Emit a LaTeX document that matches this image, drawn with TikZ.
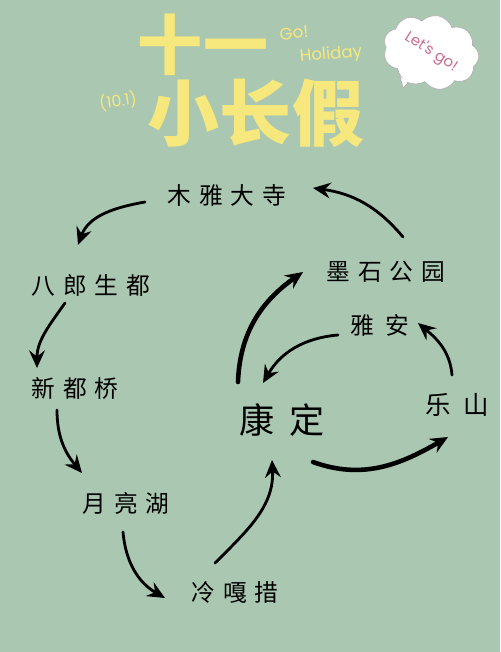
\documentclass[tikz,border=0pt]{standalone}
\usepackage{fontspec}
\usetikzlibrary{arrows.meta,shapes.symbols}
\newfontfamily\placefont[LetterSpace=33]{Noto Sans CJK SC}
\newfontfamily\titlefont{Noto Sans CJK SC}
\newfontfamily\handfont{Poppins}
\definecolor{bgsage}{RGB}{170,199,177}
\definecolor{titleyellow}{RGB}{246,232,125}
\definecolor{bubblepink}{RGB}{204,108,146}
\tikzset{
  place/.style={font=\placefont\fontsize{13.5}{15}\selectfont, inner sep=1pt},
  bigplace/.style={font=\placefont\addfontfeature{LetterSpace=40}\fontsize{20}{22}\selectfont, inner sep=1pt},
  route/.style={-{Stealth[length=10pt,width=9pt,inset=3.5pt]}, line width=1.6pt, line cap=round},
  mainroute/.style={route, line width=2.6pt}
}
\begin{document}
\begin{tikzpicture}[x=0.02cm,y=0.02cm]
  \fill[bgsage] (0,0) rectangle (500,-652);
  \useasboundingbox (0,0) rectangle (500,-652);
  % title
  \node[titleyellow, font=\titlefont\bfseries\fontsize{37}{37}\selectfont] (shiyi) at (203,-45) {十一};
  \node[titleyellow, font=\titlefont\bfseries\fontsize{41}{41}\selectfont] (xiaochangjia) at (256,-113) {小长假};
  \node[titleyellow, font=\handfont\fontsize{9}{10}\selectfont, rotate=8] (date) at (118,-101) {(10.1)};
  \node[titleyellow, font=\handfont\fontsize{9.5}{11}\selectfont, rotate=5] (go) at (294,-33) {Go!};
  \node[titleyellow, font=\handfont\fontsize{9.5}{11}\selectfont, rotate=5] (holiday) at (331,-55) {Holiday};
  % bubble
  \fill[white] (399,-72) -- (403,-88) -- (414,-76) -- cycle;
  \draw[gray!60] (399,-73) -- (403,-88) -- (413,-78);
  \node[cloud, cloud puffs=9, cloud puff arc=115, cloud ignores aspect, fill=white, draw=gray!60,
        minimum width=55pt, minimum height=42pt, inner sep=0pt, rotate=-12,
        text=bubblepink, font=\handfont\fontsize{8.5}{10}\selectfont] (bubble) at (431,-52) {\rotatebox{-21}{Let's go!}};
  \fill[white] (401,-72) -- (404,-85) -- (412,-76) -- cycle;
  % places
  \node[place] (muya) at (227,-195) {木雅大寺};
  \node[place] (balang) at (91,-285) {八郎生都};
  \node[place] (xinduqiao) at (75,-388) {新都桥};
  \node[place] (yueliang) at (126,-503) {月亮湖};
  \node[place] (lenggacuo) at (235,-592) {冷嘎措};
  \node[bigplace] (kangding) at (282,-420) {康定};
  \node[place, font=\placefont\addfontfeature{LetterSpace=50}\fontsize{14.5}{16}\selectfont] (leshan) at (457,-405) {乐山};
  \node[place, font=\placefont\addfontfeature{LetterSpace=45}\fontsize{13.5}{15}\selectfont] (yaan) at (380,-325) {雅安};
  \node[place] (moshi) at (386,-272) {墨石公园};
  % routes
  \draw[mainroute] ([shift={(-44,38)}]kangding.center) to[out=88,in=215] ([shift={(-83,0)}]moshi.center);
  \draw[route] ([shift={(17,35)}]moshi.center) to[out=130,in=-8] ([shift={(86,7)}]muya.center);
  \draw[route] ([shift={(-82,-7)}]muya.center) to[out=190,in=70] ([shift={(-13,40)}]balang.center);
  \draw[route] ([shift={(-26,-18)}]balang.center) to[out=235,in=90] ([shift={(-38,20)}]xinduqiao.center);
  \draw[route] ([shift={(-18,-22)}]xinduqiao.center) to[out=-90,in=130] ([shift={(-44,30)}]yueliang.center);
  \draw[route] ([shift={(-3,-29)}]yueliang.center) to[out=-85,in=150] ([shift={(-70,-6)}]lenggacuo.center);
  \draw[route] ([shift={(-20,29)}]lenggacuo.center) to[out=45,in=-87] ([shift={(-10,-40)}]kangding.center);
  \draw[mainroute] ([shift={(31,-42)}]kangding.center) to[out=-20,in=210] ([shift={(-9,-32)}]leshan.center);
  \draw[route] ([shift={(-5,30)}]leshan.center) to[out=95,in=-40] ([shift={(38,2)}]yaan.center);
  \draw[route] ([shift={(-42,-10)}]yaan.center) to[out=185,in=60] ([shift={(-19,37)}]kangding.center);
\end{tikzpicture}
\end{document}
